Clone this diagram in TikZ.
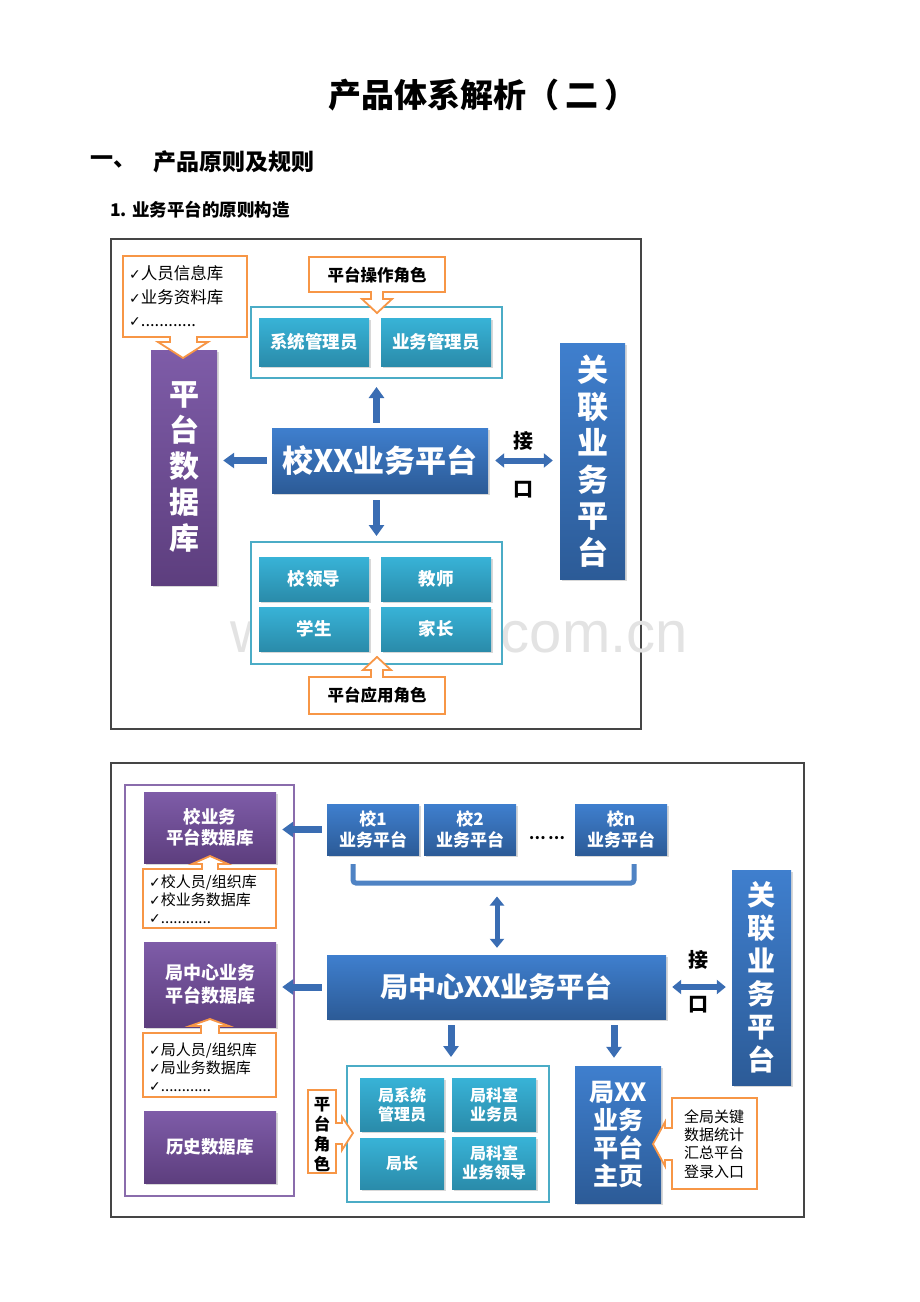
\documentclass[tikz,border=0pt]{standalone}
\usepackage{fontspec}
\setmainfont{Noto Sans CJK SC}
\newfontfamily\dv{DejaVu Sans}
\newfontfamily\wmf{Liberation Sans}
\usetikzlibrary{arrows.meta,shadows}
\newcommand\myfs[2]{\fontsize{#1}{#2}\selectfont}
\newcommand\ck{{\dv\fontsize{14}{14}\selectfont ✓}}
\definecolor{pTop}{HTML}{7E5CA8}
\definecolor{pBot}{HTML}{5D3E7E}
\definecolor{bTop}{HTML}{3F7FCE}
\definecolor{bBot}{HTML}{2C5B97}
\definecolor{tTop}{HTML}{38B3D7}
\definecolor{tBot}{HTML}{2A8BAA}
\definecolor{tLine}{HTML}{4BACC6}
\definecolor{orng}{HTML}{F79646}
\definecolor{pLine}{HTML}{8A6CAC}
\definecolor{arr}{HTML}{3A6DB3}
\definecolor{brk}{HTML}{4F83C4}
\definecolor{frm}{HTML}{454545}
\tikzset{
 box/.style={rectangle, inner sep=0pt, align=center, text=white, font=\bfseries,
   drop shadow={shadow xshift=1.5pt, shadow yshift=-1.5pt, opacity=0.3}},
 pbox/.style={box, top color=pTop, bottom color=pBot},
 bbox/.style={box, top color=bTop, bottom color=bBot},
 tbox/.style={box, top color=tTop, bottom color=tBot},
 callout/.style={draw=orng, line width=1.8pt, fill=white, line join=miter},
 tcont/.style={draw=tLine, line width=2pt, fill=white},
 frame/.style={draw=frm, line width=1.2pt},
 barrow/.style={draw=arr, line width=7pt, -{Triangle[width=15pt,length=11pt]}},
 darrow/.style={draw=arr, line width=6pt, {Triangle[width=14pt,length=9pt]}-{Triangle[width=14pt,length=9pt]}},
 lbl/.style={inner sep=0pt, font=\bfseries\myfs{20}{24}, text=black},
 ctext/.style={inner sep=0pt, text=black, font=\myfs{16.5}{23.5}, align=left},
}
\begin{document}
\begin{tikzpicture}[x=1pt,y=-1pt]
\useasboundingbox[fill=white] (0,0) rectangle (920,1302);
% headings
\node[inner sep=0, font=\bfseries\myfs{33}{40}] (title) at (483,95) {产品体系解析（\hspace{6pt}二\hspace{6pt}）};
\node[inner sep=0, anchor=west, font=\bfseries\myfs{23}{28}] (h1a) at (90,162) {一、};
\node[inner sep=0, anchor=west, font=\bfseries\myfs{23}{28}] (h1b) at (153,162) {产品原则及规则};
\node[inner sep=0, anchor=west, font=\bfseries\myfs{17.5}{21}] (h2) at (110,210) {1. 业务平台的原则构造};

% ================= diagram 1 =================
\draw[frame] (111,239) rectangle (641,729);
\node[inner sep=0, anchor=base, font=\wmf\myfs{58}{58}, text=black!11] (wmk) at (459,652) {www.zixin.com.cn};

\node[pbox, minimum width=66, minimum height=235, font=\bfseries\myfs{30}{36}] (db1) at (184,467.5) {平\\台\\数\\据\\库};
\node[bbox, minimum width=65, minimum height=236, font=\bfseries\myfs{31}{36.5}] (rel1) at (592.5,461) {关\\联\\业\\务\\平\\台};

\node[tcont, minimum width=251, minimum height=71] (cont1) at (376.5,342.5) {};
\node[tbox, minimum width=110, minimum height=48, font=\bfseries\myfs{17.5}{21}] (sys) at (314,342) {系统管理员};
\node[tbox, minimum width=110, minimum height=48, font=\bfseries\myfs{17.5}{21}] (bus) at (436,342) {业务管理员};

\node[bbox, minimum width=216, minimum height=65, font=\bfseries\myfs{31}{36}] (main1) at (380,460.5) {校XX业务平台};

\node[tcont, minimum width=251, minimum height=122] (cont2) at (376.5,603) {};
\node[tbox, minimum width=110, minimum height=44, font=\bfseries\myfs{17.5}{21}] (lead) at (314,579) {校领导};
\node[tbox, minimum width=110, minimum height=44, font=\bfseries\myfs{17.5}{21}] (teach) at (436,579) {教师};
\node[tbox, minimum width=110, minimum height=44, font=\bfseries\myfs{17.5}{21}] (stud) at (314,629) {学生};
\node[tbox, minimum width=110, minimum height=44, font=\bfseries\myfs{17.5}{21}] (par) at (436,629) {家长};

% arrows diagram 1
\draw[barrow, shorten <=5pt, shorten >=8pt] (cont1.south |- main1.north) -- (cont1.south);
\draw[barrow, shorten <=7pt, shorten >=5pt] (cont2.north |- main1.south) -- (cont2.north);
\draw[barrow, shorten <=5pt, shorten >=6pt] (main1.west) -- (db1.east |- main1.west);
\draw[darrow, shorten <=7pt, shorten >=7pt] (main1.east) -- (rel1.west |- main1.east);
\node[lbl] (jie1) at (523,441) {接};
\node[lbl] (kou1) at (523,490) {口};

% callouts diagram 1
\draw[callout] (123,256) -- (247,256) -- (247,337) -- (197,337) -- (197,342) -- (208,342) -- (183,358) -- (158,342) -- (170,342) -- (170,337) -- (123,337) -- cycle;
\node[ctext, anchor=west] (list1) at (129,296.5) {\ck 人员信息库\\\ck 业务资料库\\\ck ............};
\draw[callout] (309,257) -- (445,257) -- (445,292) -- (383,292) -- (383,299) -- (392,299) -- (377,313) -- (362,299) -- (371,299) -- (371,292) -- (309,292) -- cycle;
\node[inner sep=0, font=\bfseries\myfs{16.5}{20}] (ops) at (377,275) {平台操作角色};
\draw[callout] (309,677) -- (371,677) -- (371,670) -- (363,670) -- (377,657) -- (391,670) -- (383,670) -- (383,677) -- (445,677) -- (445,714) -- (309,714) -- cycle;
\node[inner sep=0, font=\bfseries\myfs{16.5}{20}] (app) at (377,695.5) {平台应用角色};

% ================= diagram 2 =================
\draw[frame] (111,763) rectangle (804,1217);
\draw[draw=pLine, line width=1.5pt] (125,785) rectangle (294,1196);

\node[pbox, minimum width=132, minimum height=71, font=\bfseries\myfs{17.5}{21}] (sdb) at (210,827.5) {校业务\\平台数据库};
\node[pbox, minimum width=132, minimum height=85, font=\bfseries\myfs{18}{23}] (ldb) at (210,984.5) {局中心业务\\平台数据库};
\node[pbox, minimum width=132, minimum height=72, font=\bfseries\myfs{17.5}{21}] (hdb) at (210,1147) {历史数据库};

\node[bbox, minimum width=92, minimum height=51, font=\bfseries\myfs{17}{21}] (s1) at (373,829.5) {校1\\业务平台};
\node[bbox, minimum width=92, minimum height=51, font=\bfseries\myfs{17}{21}] (s2) at (470,829.5) {校2\\业务平台};
\node[bbox, minimum width=92, minimum height=51, font=\bfseries\myfs{17}{21}] (sn) at (621,829.5) {校n\\业务平台};
\node[inner sep=0, font=\bfseries\myfs{15}{18}, text=black] (dots) at (547,838) {…\,…};

\node[bbox, minimum width=339, minimum height=64, font=\bfseries\myfs{28}{32}] (main2) at (496.5,987) {局中心XX业务平台};
\node[bbox, minimum width=59, minimum height=215, font=\bfseries\myfs{28}{33}] (rel2) at (761.5,977.5) {关\\联\\业\\务\\平\\台};

\node[tcont, minimum width=202, minimum height=136] (cont3) at (448,1134) {};
\node[tbox, minimum width=84, minimum height=53, font=\bfseries\myfs{16}{19}] (lsys) at (402,1104.5) {局系统\\管理员};
\node[tbox, minimum width=84, minimum height=53, font=\bfseries\myfs{16}{19}] (lks) at (494,1104.5) {局科室\\业务员};
\node[tbox, minimum width=84, minimum height=51, font=\bfseries\myfs{16}{19}] (lz) at (402,1163.5) {局长};
\node[tbox, minimum width=84, minimum height=52, font=\bfseries\myfs{16}{19}] (lksl) at (494,1163) {局科室\\业务领导};

\node[bbox, minimum width=86, minimum height=137, font=\bfseries\myfs{25}{28}] (home) at (618,1134.5) {局XX\\业务\\平台\\主页};

% bracket and arrows diagram 2
\coordinate (bl) at (353,864);
\coordinate (br) at (634,864);
\coordinate (bm) at (497,885.5);
\draw[draw=brk, line width=5pt, rounded corners=3pt] (bl) -- ++(0,19) -| (br);
\draw[darrow, line width=5pt, shorten <=11pt, shorten >=7pt] (bm) -- (bm |- main2.north);
\draw[barrow, shorten <=5pt, shorten >=6pt] (s1.west) -- (sdb.east |- s1.west);
\draw[barrow, shorten <=5pt, shorten >=6pt] (main2.west) -- (ldb.east |- main2.west);
\draw[darrow, shorten <=6pt, shorten >=6pt] (main2.east) -- (rel2.west |- main2.east);
\node[lbl] (jie2) at (698,960) {接};
\node[lbl] (kou2) at (698,1005) {口};
\draw[barrow, shorten <=6pt, shorten >=8pt] ([xshift=3pt]cont3.north |- main2.south) -- ([xshift=3pt]cont3.north);
\draw[barrow, shorten <=6pt, shorten >=8pt] ([xshift=-4pt]home.north |- main2.south) -- ([xshift=-4pt]home.north);

% callouts diagram 2
\draw[callout] (143,869) -- (202,869) -- (202,864) -- (192,864) -- (210,856) -- (228,864) -- (218,864) -- (218,869) -- (276,869) -- (276,928) -- (143,928) -- cycle;
\node[ctext, anchor=west, font=\myfs{15}{18}] (list2) at (149,899) {\ck 校人员/组织库\\\ck 校业务数据库\\\ck ............};
\draw[callout] (143,1033) -- (201,1033) -- (201,1026) -- (190,1026) -- (210,1019) -- (229,1026) -- (219,1026) -- (219,1033) -- (276,1033) -- (276,1097) -- (143,1097) -- cycle;
\node[ctext, anchor=west, font=\myfs{15}{18}] (list3) at (149,1067) {\ck 局人员/组织库\\\ck 局业务数据库\\\ck ............};
\draw[callout] (308,1090) -- (336,1090) -- (336,1123) -- (342,1123) -- (342,1117) -- (353,1133) -- (342,1150) -- (342,1144) -- (336,1144) -- (336,1173) -- (308,1173) -- cycle;
\node[inner sep=0, align=center, font=\bfseries\myfs{16.5}{20}] (role) at (322,1135) {平\\台\\角\\色};
\draw[callout] (672,1098) -- (757,1098) -- (757,1189) -- (672,1189) -- (672,1160) -- (665,1160) -- (665,1166) -- (653,1144) -- (665,1122) -- (665,1128) -- (672,1128) -- cycle;
\node[inner sep=0, align=center, font=\myfs{15}{18.3}] (note) at (714,1144) {全局关键\\数据统计\\汇总平台\\登录入口};
\end{tikzpicture}
\end{document}
